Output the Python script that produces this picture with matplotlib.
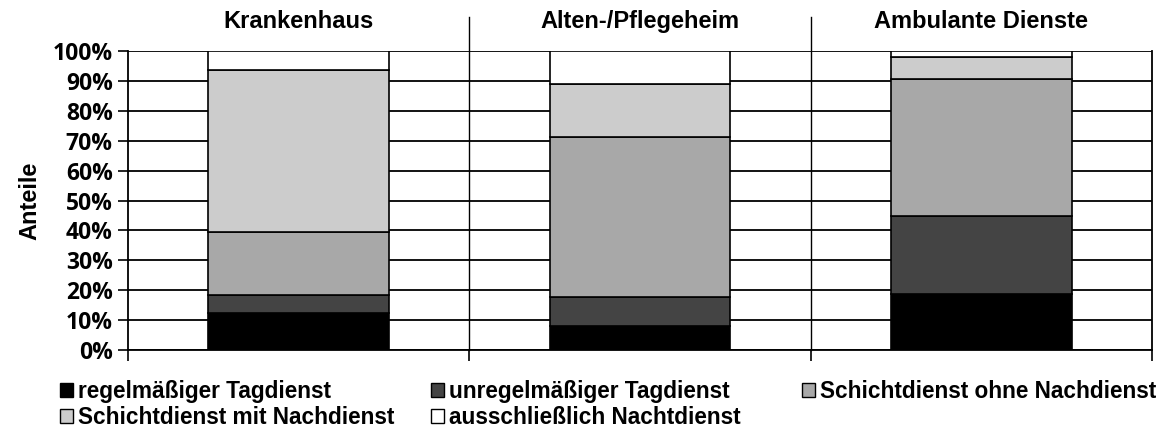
import matplotlib.pyplot as plt
import matplotlib.transforms as mtransforms
from matplotlib.patches import Patch
import numpy as np

categories = ['Krankenhaus', 'Alten-/Pflegeheim', 'Ambulante Dienste']
series = ['regelmäßiger Tagdienst', 'unregelmäßiger Tagdienst',
          'Schichtdienst ohne Nachdienst', 'Schichtdienst mit Nachdienst',
          'ausschließlich Nachtdienst']
regel = [12.5, 8.0, 18.7]
unregel = [5.8, 9.8, 26.2]
ohne_nacht = [21.3, 53.5, 45.8]
mit_nacht = [54.0, 17.7, 7.4]
nur_nacht = [6.4, 11.0, 1.9]
values = [regel, unregel, ohne_nacht, mit_nacht, nur_nacht]
colors = ['#000000', '#444444', '#a8a8a8', '#cccccc', '#ffffff']
yticks = np.arange(0, 101, 10)

fig = plt.figure(figsize=(11.68, 4.30), dpi=100)
ax = fig.add_axes([128 / 1168, 1 - 350 / 430, 1024 / 1168, 299 / 430])

x = np.arange(len(categories))
bottom = np.zeros(len(categories))
for vals, col in zip(values, colors):
    ax.bar(x, vals, 0.53, bottom=bottom, color=col, edgecolor='black',
           linewidth=1.2, zorder=3)
    bottom += np.array(vals)

ax.set_xlim(-0.5, len(categories) - 0.5)
ax.set_ylim(0, 100)
ax.set_yticks(yticks)
ax.set_yticklabels([f'{t}%' for t in yticks], family='Open Sans',
                   fontweight='bold', fontsize=16.5)
ax.yaxis.grid(True, color='black', linewidth=1.3, zorder=0)
ax.tick_params(axis='y', length=7, width=1.2, pad=4)
ax.set_xticks(np.arange(-0.5, len(categories), 1.0))
ax.set_xticklabels([])
ax.tick_params(axis='x', length=8, width=1.2, direction='out')
for s in ['left', 'right', 'bottom']:
    ax.spines[s].set_linewidth(1.3)
ax.spines['top'].set_visible(False)

# separators between the panels, reaching up into the title row
trans = mtransforms.blended_transform_factory(ax.transData, ax.transAxes)
for b in np.arange(0.5, len(categories) - 1, 1.0):
    ax.plot([b, b], [0, 1.115], transform=trans, color='black',
            linewidth=1.0, clip_on=False, zorder=4)
for i, c in enumerate(categories):
    ax.text(i, 1.1, c, transform=trans, ha='center', va='center',
            family='Liberation Sans', fontweight='bold', fontsize=17)

ax.set_ylabel('Anteile', family='Liberation Sans', fontweight='bold',
              fontsize=17, labelpad=8)

# legend laid out row-wise in three columns, like the original
handles = [Patch(facecolor=c, edgecolor='black', linewidth=1.0) for c in colors]
columns = [[0, 3], [1, 4], [2]]
col_x = [58, 429, 800]
for idx, cx in zip(columns, col_x):
    fig.legend([handles[i] for i in idx], [series[i] for i in idx],
               loc='upper left', bbox_to_anchor=(cx / 1168, 1 - 378 / 430),
               ncol=1, frameon=False,
               prop={'family': 'Liberation Sans', 'weight': 'bold', 'size': 16.3},
               handlelength=0.55, handleheight=0.6, handletextpad=0.25,
               labelspacing=0.12, borderaxespad=0.0, borderpad=0.1)

fig.savefig('out.png', dpi=100)
